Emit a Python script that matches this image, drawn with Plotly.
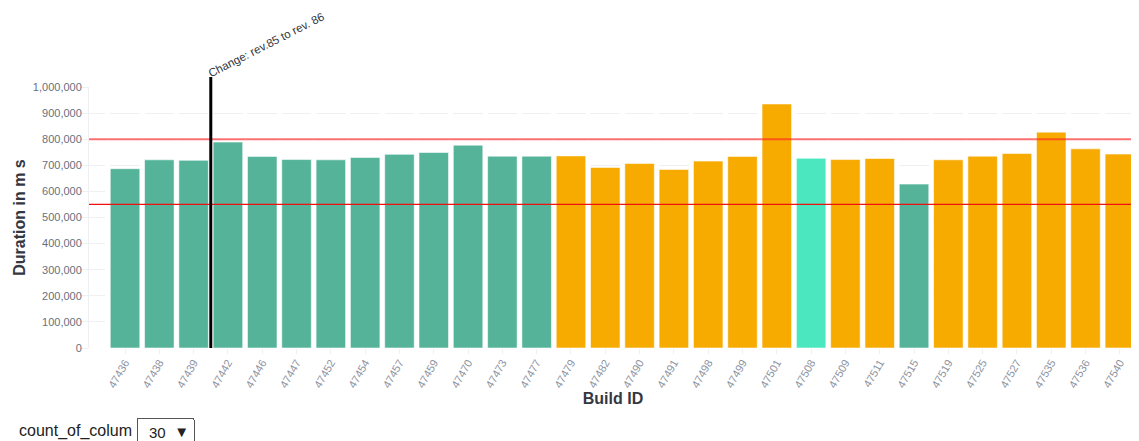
import plotly.graph_objects as go

# ---------------- data ----------------
build_ids = ["47436", "47438", "47439", "47442", "47446", "47447", "47452", "47454",
             "47457", "47459", "47470", "47473", "47477", "47479", "47482", "47490",
             "47491", "47498", "47499", "47501", "47508", "47509", "47511", "47515",
             "47519", "47525", "47527", "47535", "47536", "47540"]
durations = [687000, 721000, 719000, 789000, 734000, 722000, 721000, 730000,
             742000, 749000, 777000, 735000, 735000, 736000, 692000, 707000,
             684000, 716000, 734000, 935000, 727000, 722000, 726000, 628000,
             721000, 735000, 745000, 827000, 763000, 743000]
status = (["pass"] * 13 + ["warn"] * 7 + ["current"] + ["warn"] * 2 +
          ["pass"] + ["warn"] * 6)
upper_limit = 800000
lower_limit = 550000
change_between = ("47439", "47442")
change_label = "Change: rev.85 to rev. 86"
count_label = "count_of_colum"
count_options = ["30"]

# ---------------- style ----------------
status_colors = {"pass": "#54B399", "warn": "#F7AA00", "current": "#4BE8BF"}
# the page body has an 8px margin, so the figure is offset by 8px
W, H = 1131, 433
ML, MR, MT, MB = 81, 2, 78.5, 93.4
X_RANGE = [-1.05, 29.5]
BARGAP = 0.14
GRID = "#EEF0F4"
FONT = "Liberation Sans, Arial, Helvetica"

plot_w = W - ML - MR
plot_h = H - MT - MB
unit = plot_w / (X_RANGE[1] - X_RANGE[0])
gap = BARGAP * unit
# dash pattern so the horizontal grid segments follow the bands
dash = []
pos = 0.0
for k in range(len(build_ids) + 1):
    b = (k - 0.5 - X_RANGE[0]) * unit
    g0 = max(b - gap / 2, 0)
    g1 = min(b + gap / 2, plot_w)
    if g0 >= plot_w:
        break
    dash.append(g0 - pos)
    dash.append(g1 - g0)
    pos = g1
if pos < plot_w:
    dash.append(plot_w - pos)
    dash.append(0.1)
griddash = ",".join("%.2fpx" % d for d in dash)


def py(page_y):
    """page pixel y -> paper fraction (figure is offset 8px by body margin)"""
    return (MT + plot_h - (page_y - 8)) / plot_h


def px(page_x):
    return (page_x - 8 - ML) / plot_w


fig = go.Figure()
fig.add_trace(go.Bar(
    x=build_ids, y=durations,
    marker=dict(color=[status_colors[s] for s in status],
                line=dict(color="rgba(255,255,255,0.55)", width=1)),
    hoverinfo="x+y",
))

x_change = (build_ids.index(change_between[0]) + build_ids.index(change_between[1])) / 2

fig.add_shape(type="line", xref="paper", yref="y", x0=0, x1=1,
              y0=upper_limit, y1=upper_limit,
              line=dict(color="rgba(255,40,40,0.65)", width=2), layer="above")
fig.add_shape(type="line", xref="paper", yref="y", x0=0, x1=1,
              y0=lower_limit, y1=lower_limit,
              line=dict(color="#F01010", width=1.3), layer="above")
fig.add_shape(type="line", xref="x", yref="paper", x0=x_change, x1=x_change,
              y0=0, y1=py(76.5), line=dict(color="#000000", width=3), layer="above")

fig.add_annotation(x=x_change + 1.6, xref="x", y=py(44), yref="paper",
                   text=change_label, showarrow=False, textangle=-27,
                   xanchor="center", yanchor="middle",
                   font=dict(family=FONT, size=11.5, color="#343741"))

fig.add_annotation(x=px(17), xref="paper", y=py(431), yref="paper",
                   text=count_label, showarrow=False, xanchor="left", yanchor="middle",
                   font=dict(family=FONT, size=16, color="#222222"))

fig.update_layout(
    width=W, height=H,
    margin=dict(l=ML, r=MR, t=MT, b=MB, autoexpand=False),
    paper_bgcolor="white", plot_bgcolor="white",
    bargap=BARGAP, showlegend=False,
    font=dict(family=FONT, color="#69707D"),
    updatemenus=[dict(
        type="dropdown", direction="down",
        x=px(136), xanchor="left",
        y=py(416.5), yanchor="top",
        buttons=[dict(label=o, method="skip", args=[]) for o in count_options],
        active=0, showactive=True,
        bgcolor="white", bordercolor="#555555", borderwidth=1,
        font=dict(family=FONT, size=15, color="#222222"),
        pad=dict(l=0, r=0, t=0, b=0),
    )],
)

fig.update_xaxes(
    type="category", range=X_RANGE,
    tickangle=-60, tickfont=dict(family=FONT, size=11, color="#8C939F"),
    ticks="outside", ticklen=5, tickcolor=GRID, ticklabelstandoff=-2,
    showgrid=False, showline=False, zeroline=False,
    title=dict(text="Build ID", font=dict(family=FONT, size=16, color="#343741", weight="bold"),
               standoff=3),
)
fig.update_yaxes(
    range=[0, 1000000], dtick=100000, tickformat=",d",
    tickfont=dict(family=FONT, size=11, color="#69707D"),
    ticks="outside", ticklen=8, tickcolor=GRID, ticklabelstandoff=-4,
    showgrid=True, gridcolor=GRID, gridwidth=1, griddash=griddash,
    showline=True, linecolor=GRID, linewidth=1, zeroline=False,
    title=dict(text="Duration in m s", font=dict(family=FONT, size=16, color="#343741", weight="bold"),
               standoff=3),
)

fig.write_html("out.html")
